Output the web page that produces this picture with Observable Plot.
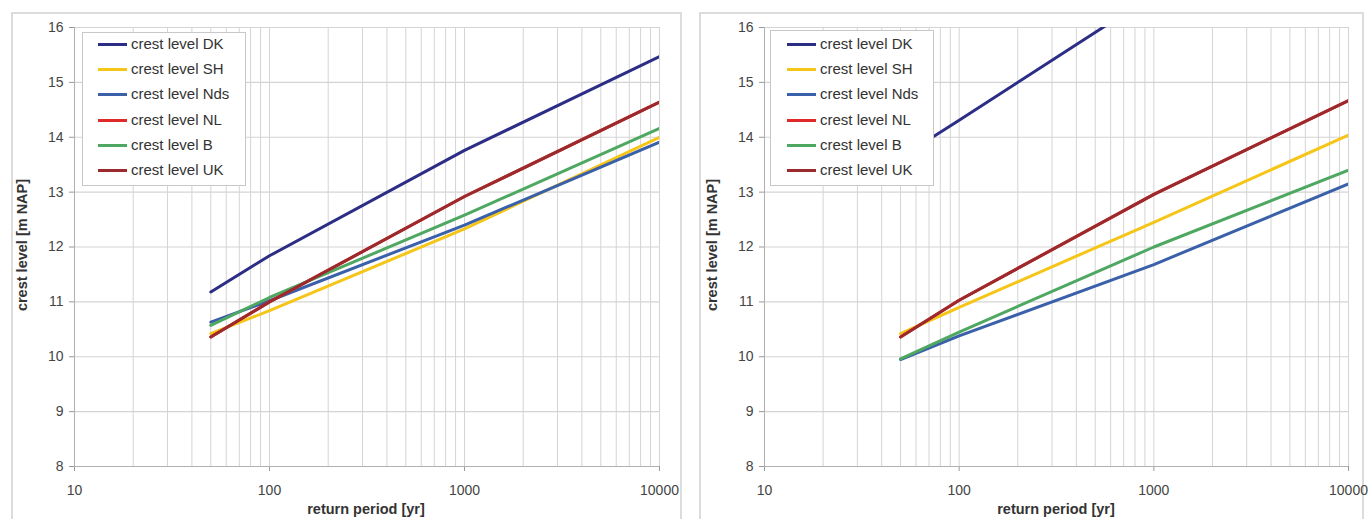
<!DOCTYPE html>
<html>
<head>
<meta charset="utf-8">
<script src="https://cdn.jsdelivr.net/npm/d3@7"></script>
<script src="https://cdn.jsdelivr.net/npm/@observablehq/plot@0.6"></script>
<style>
  html, body { margin: 0; padding: 0; background: #fff; width: 1371px; height: 519px; overflow: hidden; }
  body { position: relative; font-family: "Liberation Sans", Arial, sans-serif; }
  .frame { position: absolute; border: 2px solid #dcdcdc; box-sizing: border-box; }
  .chart { position: absolute; }
  .xtitle, .ytitle { position: absolute; font-weight: bold; font-size: 14.5px; color: #333; white-space: nowrap; }
  .ytitle { transform: translate(-50%, -50%) rotate(-90deg); }
  .xtitle { transform: translate(-50%, -50%); }
  .legend { position: absolute; background: #fff; border: 1px solid #c8c8c8; box-sizing: border-box; }
  .legend .item { position: absolute; height: 18px; font-size: 15px; color: #333; line-height: 18px; white-space: nowrap; }
  .legend .sw { position: absolute; top: 8px; width: 29px; height: 3px; }
  .legend .lbl { position: absolute; top: 0; }
</style>
</head>
<body>
<div id="root"></div>
<script>
// ---- data ----
const seriesNames = ["crest level DK", "crest level SH", "crest level Nds", "crest level NL", "crest level B", "crest level UK"];
const seriesColors = ["#2c2e86", "#f5c518", "#3a60aa", "#e02a2a", "#4fa862", "#9c2a2c"];

const returnPeriods = [50, 100, 1000, 10000];

// left panel
const leftDK  = [11.18, 11.84, 13.76, 15.47];
const leftSH  = [10.42, 10.84, 12.33, 14.00];
const leftNds = [10.63, 11.02, 12.40, 13.91];
const leftNL  = [10.36, 11.00, 12.92, 14.64];
const leftB   = [10.57, 11.08, 12.58, 14.16];
const leftUK  = [10.36, 11.00, 12.92, 14.64];

// right panel
const rightDK  = [13.63, 14.31, 16.60];
const rightSH  = [10.42, 10.90, 12.45, 14.04];
const rightNds = [9.95, 10.38, 11.68, 13.15];
const rightNL  = [10.36, 11.03, 12.96, 14.67];
const rightB   = [9.96, 10.45, 12.00, 13.40];
const rightUK  = [10.36, 11.03, 12.96, 14.67];

const xMajorTicks = [10, 100, 1000, 10000];
const xMinorTicks = [10,20,30,40,50,60,70,80,90,100,200,300,400,500,600,700,800,900,1000,2000,3000,4000,5000,6000,7000,8000,9000,10000];
const yTicks = [8, 9, 10, 11, 12, 13, 14, 15, 16];

const xTitle = "return period [yr]";
const yTitle = "crest level [m NAP]";

function toRows(arrays) {
  const rows = [];
  arrays.forEach((vals, i) => {
    vals.forEach((v, j) => rows.push({series: seriesNames[i], x: returnPeriods[j], y: v}));
  });
  return rows;
}

function makePanel(cfg) {
  const root = document.getElementById("root");
  const frame = document.createElement("div");
  frame.className = "frame";
  Object.assign(frame.style, {left: cfg.frame[0] + "px", top: cfg.frame[1] + "px", width: cfg.frame[2] + "px", height: cfg.frame[3] + "px"});
  root.appendChild(frame);

  const rows = toRows(cfg.arrays);
  const plot = Plot.plot({
    width: cfg.width,
    height: cfg.height,
    marginLeft: cfg.ml,
    marginRight: cfg.mr,
    marginTop: cfg.mt,
    marginBottom: cfg.mb,
    style: {fontFamily: "'Liberation Sans', Arial, sans-serif", fontSize: "14px", color: "#444", background: "transparent"},
    x: {type: "log", domain: [10, 10000], axis: null},
    y: {domain: [8, 16], axis: null},
    color: {domain: seriesNames, range: seriesColors},
    marks: [
      Plot.ruleX(xMinorTicks, {stroke: "#d4d4d4", strokeWidth: 1}),
      Plot.ruleY(yTicks, {stroke: "#d4d4d4", strokeWidth: 1.2}),
      Plot.axisX(xMajorTicks, {tickFormat: d => String(d), tickSize: 5, tickPadding: 14, stroke: "#999", label: null}),
      Plot.axisY(yTicks, {tickFormat: d => String(d), tickSize: 5, tickPadding: 6, stroke: "#999", label: null}),
      Plot.ruleX([10], {stroke: "#b0b0b0"}),
      Plot.ruleY([8], {stroke: "#b0b0b0"}),
      Plot.line(rows, {x: "x", y: "y", z: "series", stroke: "series", strokeWidth: 3, clip: true})
    ]
  });
  plot.classList.add("chart");
  Object.assign(plot.style, {left: cfg.left + "px", top: cfg.top + "px"});
  root.appendChild(plot);

  const xt = document.createElement("div");
  xt.className = "xtitle"; xt.textContent = xTitle;
  Object.assign(xt.style, {left: cfg.xtitle[0] + "px", top: cfg.xtitle[1] + "px"});
  root.appendChild(xt);

  const yt = document.createElement("div");
  yt.className = "ytitle"; yt.textContent = yTitle;
  Object.assign(yt.style, {left: cfg.ytitle[0] + "px", top: cfg.ytitle[1] + "px"});
  root.appendChild(yt);

  const lg = document.createElement("div");
  lg.className = "legend";
  Object.assign(lg.style, {left: cfg.legend[0] + "px", top: cfg.legend[1] + "px", width: cfg.legend[2] + "px", height: cfg.legend[3] + "px"});
  seriesNames.forEach((name, i) => {
    const it = document.createElement("div");
    it.className = "item";
    it.style.top = (cfg.legendY0 + i * 25.2) + "px";
    it.style.left = "0px";
    const sw = document.createElement("div");
    sw.className = "sw";
    sw.style.left = cfg.swLeft + "px";
    sw.style.background = seriesColors[i];
    const lb = document.createElement("div");
    lb.className = "lbl";
    lb.style.left = (cfg.swLeft + 33) + "px";
    lb.textContent = name;
    it.appendChild(sw); it.appendChild(lb);
    lg.appendChild(it);
  });
  root.appendChild(lg);
}

makePanel({
  arrays: [leftDK, leftSH, leftNds, leftNL, leftB, leftUK],
  frame: [11, 12, 671, 520],
  left: 12, top: 13, width: 669, height: 506,
  ml: 62, mr: 22, mt: 14, mb: 53,
  xtitle: [366, 509], ytitle: [22, 245],
  legend: [82, 32, 164, 154], legendY0: 2, swLeft: 15
});

makePanel({
  arrays: [rightDK, rightSH, rightNds, rightNL, rightB, rightUK],
  frame: [699, 12, 665, 520],
  left: 700, top: 13, width: 671, height: 506,
  ml: 64, mr: 23, mt: 14, mb: 53,
  xtitle: [1056, 509], ytitle: [712, 245],
  legend: [770, 30, 164, 156], legendY0: 4, swLeft: 16
});
</script>
</body>
</html>
